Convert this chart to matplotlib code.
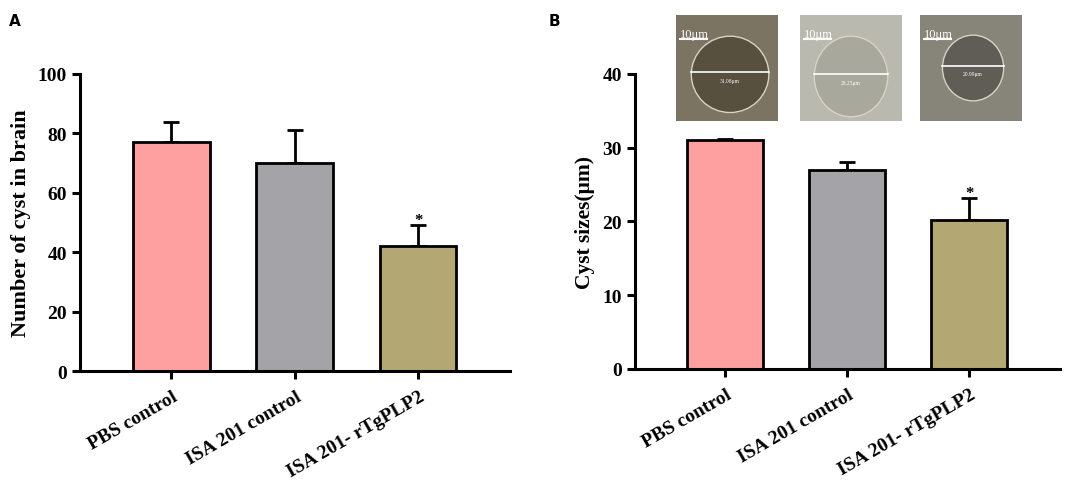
import matplotlib.pyplot as plt
import matplotlib.transforms as mtrans
from matplotlib.patches import Ellipse

groups = ["PBS control", "ISA 201 control", "ISA 201- rTgPLP2"]
colors = ["#FFA0A0", "#A4A3A8", "#B3A874"]

cyst_count = [77, 70, 42]
cyst_count_err = [7, 11, 7]

cyst_size = [31.1, 27.0, 20.2]
cyst_size_err = [0.1, 1.0, 3.0]

# micrograph insets: background tone and measured diameter label
img_bg = ["#7b7462", "#b9b9b0", "#878579"]
img_circle = ["#57503f", "#a9a89c", "#5f5d55"]
img_labels = ["31.08μm", "29.25μm", "20.99μm"]

plt.rcParams["font.family"] = ["Liberation Serif", "DejaVu Sans"]
plt.rcParams["font.weight"] = "bold"

fig = plt.figure(figsize=(10.84, 4.81), dpi=100)

axA = fig.add_axes([0.0738, 0.2266, 0.3967, 0.6175])
axB = fig.add_axes([0.5858, 0.2308, 0.3921, 0.6133])


def bar_panel(ax, vals, errs, ymax, step, ylabel, ysize):
    x = range(len(vals))
    ax.bar(x, vals, width=0.62, color=colors, edgecolor="black", linewidth=2.0, zorder=2)
    ax.errorbar(x, vals, yerr=[[0] * len(vals), errs], fmt="none", ecolor="black",
                elinewidth=2.0, capsize=6, capthick=2.0, zorder=1)
    ax.annotate("*", (2, vals[2] + errs[2]), xytext=(0, -2), textcoords="offset points",
                ha="center", va="bottom", fontsize=12, fontweight="bold")
    ax.set_xlim(-0.74, 2.745)
    ax.set_ylim(0, ymax)
    ax.set_yticks(range(0, ymax + 1, step))
    ax.set_xticks(list(x))
    ax.set_xticklabels(groups, rotation=30, ha="right", rotation_mode="anchor",
                       fontsize=13.2, fontweight="bold")
    ax.set_ylabel(ylabel, fontsize=ysize, fontweight="bold", labelpad=5)
    for s in ["top", "right"]:
        ax.spines[s].set_visible(False)
    for s in ["left", "bottom"]:
        ax.spines[s].set_linewidth(2.2)
    ax.tick_params(axis="both", width=2.2, length=6, labelsize=14)
    ax.tick_params(axis="x", pad=6)
    for lab in ax.get_yticklabels():
        lab.set_fontweight("bold")
    off = mtrans.ScaledTranslation(1 / 100, 0, fig.dpi_scale_trans)
    for lab in ax.get_xticklabels():
        lab.set_transform(lab.get_transform() + off)


bar_panel(axA, cyst_count, cyst_count_err, 100, 20, "Number of cyst in brain", 16)
bar_panel(axB, cyst_size, cyst_size_err, 40, 10, "Cyst sizes(μm)", 15.5)

fig.text(0.008, 0.945, "A", fontsize=11, fontweight="bold", family="DejaVu Sans")
fig.text(0.506, 0.945, "B", fontsize=11, fontweight="bold", family="DejaVu Sans")

# micrograph placeholders above panel B
img_x = [676, 800, 920]
cx = [0.53, 0.5, 0.52]
cy = [0.44, 0.42, 0.5]
rx = [0.38, 0.36, 0.3]
ry = [0.36, 0.38, 0.31]
for i in range(3):
    iax = fig.add_axes([img_x[i] / 1084, 1 - 122 / 481, 102 / 1084, 106 / 481])
    iax.set_xlim(0, 1)
    iax.set_ylim(0, 1)
    iax.set_facecolor(img_bg[i])
    iax.set_xticks([])
    iax.set_yticks([])
    for s in iax.spines.values():
        s.set_visible(False)
    iax.add_patch(Ellipse((cx[i], cy[i]), 2 * rx[i], 2 * ry[i], facecolor=img_circle[i],
                          edgecolor="#d8d4c4", linewidth=1.0))
    iax.plot([0.04, 0.3], [0.77, 0.77], color="white", lw=1.5)
    iax.text(0.04, 0.79, "10μm", color="white", fontsize=9, fontweight="normal")
    iax.plot([cx[i] - rx[i], cx[i] + rx[i]], [cy[i] + 0.02, cy[i] + 0.02], color="white", lw=1.2)
    iax.text(cx[i], cy[i] - 0.07, img_labels[i], color="white", fontsize=4,
             ha="center", fontweight="normal")

fig.savefig("out.png", dpi=100)
